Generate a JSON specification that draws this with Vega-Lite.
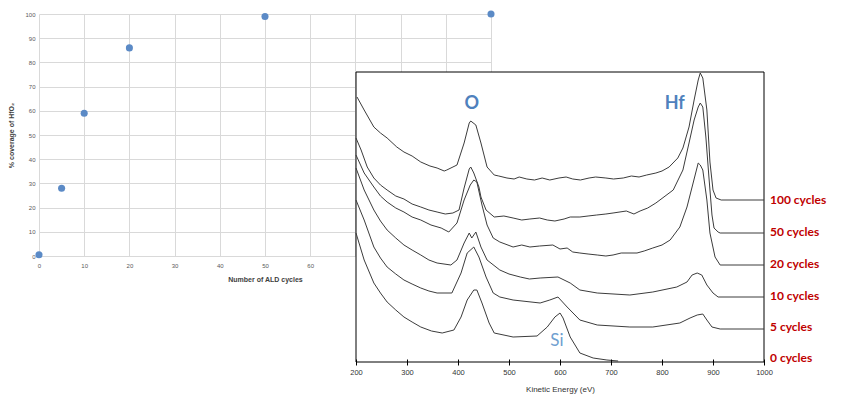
{
  "$schema": "https://vega.github.io/schema/vega-lite/v6.json",
  "width": 452,
  "height": 242,
  "autosize": {"type": "none"},
  "padding": {"left": 39, "top": 14, "right": 354, "bottom": 143},
  "background": "white",
  "config": {"view": {"stroke": null}},
  "datasets": {
    "coverage": [
      {"cycles": 0, "pct": 0.5},
      {"cycles": 5, "pct": 28},
      {"cycles": 10, "pct": 59},
      {"cycles": 20, "pct": 86},
      {"cycles": 50, "pct": 99},
      {"cycles": 100, "pct": 100}
    ],
    "spectra": [
      {"s": "100", "e": 202, "i": 265}, {"s": "100", "e": 216, "i": 252}, {"s": "100", "e": 235, "i": 235}, {"s": "100", "e": 248, "i": 229}, {"s": "100", "e": 261, "i": 224}, {"s": "100", "e": 280, "i": 215}, {"s": "100", "e": 294, "i": 210}, {"s": "100", "e": 310, "i": 206}, {"s": "100", "e": 327, "i": 200}, {"s": "100", "e": 345, "i": 196}, {"s": "100", "e": 359, "i": 194}, {"s": "100", "e": 373, "i": 191}, {"s": "100", "e": 378, "i": 192}, {"s": "100", "e": 398, "i": 197}, {"s": "100", "e": 412, "i": 219}, {"s": "100", "e": 422, "i": 239}, {"s": "100", "e": 425, "i": 241}, {"s": "100", "e": 435, "i": 237}, {"s": "100", "e": 445, "i": 219}, {"s": "100", "e": 457, "i": 195}, {"s": "100", "e": 471, "i": 187}, {"s": "100", "e": 480, "i": 186}, {"s": "100", "e": 496, "i": 184}, {"s": "100", "e": 510, "i": 183}, {"s": "100", "e": 520, "i": 185}, {"s": "100", "e": 535, "i": 183}, {"s": "100", "e": 550, "i": 182}, {"s": "100", "e": 565, "i": 184}, {"s": "100", "e": 580, "i": 182}, {"s": "100", "e": 598, "i": 184}, {"s": "100", "e": 612, "i": 185}, {"s": "100", "e": 625, "i": 183}, {"s": "100", "e": 640, "i": 182}, {"s": "100", "e": 657, "i": 184}, {"s": "100", "e": 670, "i": 185}, {"s": "100", "e": 690, "i": 184}, {"s": "100", "e": 705, "i": 183}, {"s": "100", "e": 724, "i": 184}, {"s": "100", "e": 740, "i": 186}, {"s": "100", "e": 755, "i": 185}, {"s": "100", "e": 770, "i": 187}, {"s": "100", "e": 788, "i": 189}, {"s": "100", "e": 800, "i": 191}, {"s": "100", "e": 814, "i": 195}, {"s": "100", "e": 831, "i": 204}, {"s": "100", "e": 841, "i": 214}, {"s": "100", "e": 853, "i": 235}, {"s": "100", "e": 863, "i": 262}, {"s": "100", "e": 871, "i": 282}, {"s": "100", "e": 875, "i": 289}, {"s": "100", "e": 880, "i": 284}, {"s": "100", "e": 888, "i": 252}, {"s": "100", "e": 894, "i": 200}, {"s": "100", "e": 900, "i": 172}, {"s": "100", "e": 906, "i": 164}, {"s": "100", "e": 916, "i": 162}, {"s": "100", "e": 1000, "i": 162},
      {"s": "50", "e": 200, "i": 224}, {"s": "50", "e": 210, "i": 212}, {"s": "50", "e": 222, "i": 195}, {"s": "50", "e": 235, "i": 184}, {"s": "50", "e": 248, "i": 177}, {"s": "50", "e": 261, "i": 172}, {"s": "50", "e": 278, "i": 166}, {"s": "50", "e": 294, "i": 163}, {"s": "50", "e": 310, "i": 158}, {"s": "50", "e": 327, "i": 155}, {"s": "50", "e": 343, "i": 152}, {"s": "50", "e": 359, "i": 150}, {"s": "50", "e": 375, "i": 148}, {"s": "50", "e": 390, "i": 149}, {"s": "50", "e": 402, "i": 152}, {"s": "50", "e": 412, "i": 174}, {"s": "50", "e": 422, "i": 193}, {"s": "50", "e": 425, "i": 195}, {"s": "50", "e": 431, "i": 189}, {"s": "50", "e": 441, "i": 175}, {"s": "50", "e": 445, "i": 165}, {"s": "50", "e": 455, "i": 152}, {"s": "50", "e": 471, "i": 145}, {"s": "50", "e": 490, "i": 146}, {"s": "50", "e": 508, "i": 144}, {"s": "50", "e": 525, "i": 142}, {"s": "50", "e": 541, "i": 143}, {"s": "50", "e": 560, "i": 144}, {"s": "50", "e": 575, "i": 142}, {"s": "50", "e": 590, "i": 141}, {"s": "50", "e": 608, "i": 143}, {"s": "50", "e": 620, "i": 145}, {"s": "50", "e": 639, "i": 145}, {"s": "50", "e": 655, "i": 146}, {"s": "50", "e": 672, "i": 147}, {"s": "50", "e": 690, "i": 148}, {"s": "50", "e": 704, "i": 149}, {"s": "50", "e": 730, "i": 151}, {"s": "50", "e": 745, "i": 148}, {"s": "50", "e": 757, "i": 151}, {"s": "50", "e": 772, "i": 154}, {"s": "50", "e": 788, "i": 159}, {"s": "50", "e": 822, "i": 172}, {"s": "50", "e": 841, "i": 192}, {"s": "50", "e": 853, "i": 219}, {"s": "50", "e": 863, "i": 242}, {"s": "50", "e": 871, "i": 255}, {"s": "50", "e": 875, "i": 259}, {"s": "50", "e": 880, "i": 255}, {"s": "50", "e": 886, "i": 225}, {"s": "50", "e": 892, "i": 185}, {"s": "50", "e": 898, "i": 147}, {"s": "50", "e": 902, "i": 134}, {"s": "50", "e": 910, "i": 130}, {"s": "50", "e": 914, "i": 129}, {"s": "50", "e": 1000, "i": 129},
      {"s": "20", "e": 200, "i": 207}, {"s": "20", "e": 216, "i": 189}, {"s": "20", "e": 235, "i": 175}, {"s": "20", "e": 248, "i": 166}, {"s": "20", "e": 261, "i": 160}, {"s": "20", "e": 278, "i": 154}, {"s": "20", "e": 294, "i": 150}, {"s": "20", "e": 310, "i": 145}, {"s": "20", "e": 327, "i": 142}, {"s": "20", "e": 347, "i": 137}, {"s": "20", "e": 367, "i": 134}, {"s": "20", "e": 382, "i": 130}, {"s": "20", "e": 398, "i": 139}, {"s": "20", "e": 412, "i": 162}, {"s": "20", "e": 424, "i": 177}, {"s": "20", "e": 431, "i": 182}, {"s": "20", "e": 437, "i": 180}, {"s": "20", "e": 447, "i": 157}, {"s": "20", "e": 457, "i": 137}, {"s": "20", "e": 469, "i": 124}, {"s": "20", "e": 482, "i": 120}, {"s": "20", "e": 508, "i": 115}, {"s": "20", "e": 525, "i": 117}, {"s": "20", "e": 541, "i": 115}, {"s": "20", "e": 560, "i": 116}, {"s": "20", "e": 586, "i": 117}, {"s": "20", "e": 600, "i": 113}, {"s": "20", "e": 614, "i": 114}, {"s": "20", "e": 625, "i": 110}, {"s": "20", "e": 639, "i": 109}, {"s": "20", "e": 655, "i": 108}, {"s": "20", "e": 673, "i": 107}, {"s": "20", "e": 690, "i": 106}, {"s": "20", "e": 704, "i": 107}, {"s": "20", "e": 720, "i": 109}, {"s": "20", "e": 751, "i": 109}, {"s": "20", "e": 765, "i": 111}, {"s": "20", "e": 782, "i": 114}, {"s": "20", "e": 800, "i": 117}, {"s": "20", "e": 816, "i": 122}, {"s": "20", "e": 835, "i": 135}, {"s": "20", "e": 849, "i": 155}, {"s": "20", "e": 861, "i": 179}, {"s": "20", "e": 871, "i": 199}, {"s": "20", "e": 875, "i": 197}, {"s": "20", "e": 880, "i": 192}, {"s": "20", "e": 888, "i": 162}, {"s": "20", "e": 894, "i": 129}, {"s": "20", "e": 904, "i": 105}, {"s": "20", "e": 914, "i": 97}, {"s": "20", "e": 1000, "i": 97},
      {"s": "10", "e": 200, "i": 194}, {"s": "10", "e": 216, "i": 172}, {"s": "10", "e": 235, "i": 152}, {"s": "10", "e": 248, "i": 141}, {"s": "10", "e": 261, "i": 132}, {"s": "10", "e": 278, "i": 124}, {"s": "10", "e": 294, "i": 117}, {"s": "10", "e": 310, "i": 112}, {"s": "10", "e": 327, "i": 107}, {"s": "10", "e": 343, "i": 102}, {"s": "10", "e": 359, "i": 99}, {"s": "10", "e": 386, "i": 97}, {"s": "10", "e": 398, "i": 102}, {"s": "10", "e": 412, "i": 119}, {"s": "10", "e": 422, "i": 129}, {"s": "10", "e": 427, "i": 124}, {"s": "10", "e": 435, "i": 130}, {"s": "10", "e": 445, "i": 115}, {"s": "10", "e": 457, "i": 102}, {"s": "10", "e": 482, "i": 92}, {"s": "10", "e": 500, "i": 88}, {"s": "10", "e": 522, "i": 85}, {"s": "10", "e": 540, "i": 83}, {"s": "10", "e": 561, "i": 84}, {"s": "10", "e": 596, "i": 85}, {"s": "10", "e": 620, "i": 79}, {"s": "10", "e": 639, "i": 72}, {"s": "10", "e": 673, "i": 69}, {"s": "10", "e": 737, "i": 67}, {"s": "10", "e": 782, "i": 70}, {"s": "10", "e": 829, "i": 75}, {"s": "10", "e": 849, "i": 80}, {"s": "10", "e": 859, "i": 87}, {"s": "10", "e": 869, "i": 89}, {"s": "10", "e": 878, "i": 87}, {"s": "10", "e": 888, "i": 77}, {"s": "10", "e": 900, "i": 69}, {"s": "10", "e": 910, "i": 65}, {"s": "10", "e": 1000, "i": 65},
      {"s": "5", "e": 200, "i": 162}, {"s": "5", "e": 216, "i": 142}, {"s": "5", "e": 235, "i": 115}, {"s": "5", "e": 248, "i": 104}, {"s": "5", "e": 261, "i": 95}, {"s": "5", "e": 278, "i": 88}, {"s": "5", "e": 294, "i": 82}, {"s": "5", "e": 310, "i": 78}, {"s": "5", "e": 327, "i": 74}, {"s": "5", "e": 343, "i": 71}, {"s": "5", "e": 359, "i": 69}, {"s": "5", "e": 388, "i": 69}, {"s": "5", "e": 406, "i": 89}, {"s": "5", "e": 418, "i": 109}, {"s": "5", "e": 431, "i": 115}, {"s": "5", "e": 441, "i": 105}, {"s": "5", "e": 455, "i": 85}, {"s": "5", "e": 469, "i": 69}, {"s": "5", "e": 482, "i": 65}, {"s": "5", "e": 508, "i": 62}, {"s": "5", "e": 561, "i": 59}, {"s": "5", "e": 580, "i": 62}, {"s": "5", "e": 596, "i": 65}, {"s": "5", "e": 614, "i": 55}, {"s": "5", "e": 639, "i": 42}, {"s": "5", "e": 673, "i": 37}, {"s": "5", "e": 737, "i": 35}, {"s": "5", "e": 782, "i": 35}, {"s": "5", "e": 835, "i": 39}, {"s": "5", "e": 855, "i": 44}, {"s": "5", "e": 869, "i": 47}, {"s": "5", "e": 880, "i": 48}, {"s": "5", "e": 888, "i": 42}, {"s": "5", "e": 898, "i": 35}, {"s": "5", "e": 914, "i": 33}, {"s": "5", "e": 1000, "i": 33},
      {"s": "0", "e": 200, "i": 129}, {"s": "0", "e": 216, "i": 102}, {"s": "0", "e": 235, "i": 79}, {"s": "0", "e": 248, "i": 69}, {"s": "0", "e": 261, "i": 60}, {"s": "0", "e": 278, "i": 52}, {"s": "0", "e": 294, "i": 45}, {"s": "0", "e": 310, "i": 40}, {"s": "0", "e": 327, "i": 35}, {"s": "0", "e": 348, "i": 31}, {"s": "0", "e": 369, "i": 29}, {"s": "0", "e": 392, "i": 32}, {"s": "0", "e": 406, "i": 45}, {"s": "0", "e": 418, "i": 62}, {"s": "0", "e": 431, "i": 72}, {"s": "0", "e": 437, "i": 72}, {"s": "0", "e": 447, "i": 59}, {"s": "0", "e": 461, "i": 39}, {"s": "0", "e": 471, "i": 29}, {"s": "0", "e": 508, "i": 25}, {"s": "0", "e": 555, "i": 26}, {"s": "0", "e": 575, "i": 35}, {"s": "0", "e": 590, "i": 45}, {"s": "0", "e": 600, "i": 49}, {"s": "0", "e": 606, "i": 44}, {"s": "0", "e": 620, "i": 25}, {"s": "0", "e": 639, "i": 9}, {"s": "0", "e": 665, "i": 4}, {"s": "0", "e": 692, "i": 2}, {"s": "0", "e": 714, "i": 1}
    ],
    "frame": [{"e": 200, "e2": 1000, "i": 0, "i2": 290}],
    "cycleLabels": [
      {"label": "100 cycles", "e": 1000, "i": 162},
      {"label": "50 cycles", "e": 1000, "i": 130},
      {"label": "20 cycles", "e": 1000, "i": 98},
      {"label": "10 cycles", "e": 1000, "i": 66},
      {"label": "5 cycles", "e": 1000, "i": 35},
      {"label": "0 cycles", "e": 1000, "i": 4}
    ],
    "peaks": [
      {"label": "O", "e": 427, "i": 258},
      {"label": "Hf", "e": 825, "i": 258}
    ],
    "siPeak": [
      {"label": "Si", "e": 594, "i": 21}
    ]
  },
  "layer": [
    {
      "data": {"name": "coverage"},
      "mark": {"type": "point", "filled": true, "size": 50, "color": "#5b8ac6", "opacity": 1},
      "encoding": {
        "x": {
          "field": "cycles", "type": "quantitative",
          "scale": {"domain": [0, 100], "nice": false, "zero": false},
          "axis": {
            "values": [0, 10, 20, 30, 40, 50, 60, 70, 80, 90, 100],
            "labelExpr": "datum.value <= 60 ? datum.label : ''",
            "labelFlush": false,
            "grid": true, "gridColor": "#d9d9d9", "gridWidth": 1,
            "domain": false, "ticks": false,
            "labelFont": "Liberation Sans", "labelFontSize": 6, "labelColor": "#595959", "labelPadding": 6,
            "title": "Number of ALD cycles", "titleFont": "Liberation Sans", "titleFontSize": 7, "titleFontWeight": "bold", "titleColor": "#404040", "titlePadding": 7
          }
        },
        "y": {
          "field": "pct", "type": "quantitative",
          "scale": {"domain": [0, 100], "nice": false, "zero": false},
          "axis": {
            "values": [0, 10, 20, 30, 40, 50, 60, 70, 80, 90, 100],
            "labelFlush": false,
            "grid": true, "gridColor": "#d9d9d9", "gridWidth": 1,
            "domain": false, "ticks": false,
            "labelFont": "Liberation Sans", "labelFontSize": 6, "labelColor": "#595959", "labelPadding": 4,
            "title": "% coverage of HfO₂", "titleFont": "Liberation Sans", "titleFontSize": 7, "titleFontWeight": "bold", "titleColor": "#404040", "titlePadding": 10
          }
        }
      }
    },
    {
      "layer": [
        {
          "data": {"name": "frame"},
          "mark": {"type": "rect", "fill": "white", "stroke": "black", "strokeWidth": 1},
          "encoding": {
            "x": {
              "field": "e", "type": "quantitative",
              "scale": {"domain": [200, 1000], "range": [317, 725], "nice": false, "zero": false},
              "axis": {
                "orient": "bottom", "offset": 103, "zindex": 1,
                "values": [200, 250, 300, 350, 400, 450, 500, 550, 600, 650, 700, 750, 800, 850, 900, 950, 1000],
                "format": "d",
                "labelExpr": "datum.value % 100 === 0 ? datum.label : ''",
                "labelFlush": false,
                "domain": false, "grid": false,
                "tickSize": 6, "tickColor": "black", "tickWidth": 1,
                "labelFont": "Liberation Sans", "labelFontSize": 7.5, "labelColor": "#333333", "labelPadding": 3,
                "title": "Kinetic Energy (eV)", "titleFont": "Liberation Sans", "titleFontSize": 8, "titleFontWeight": "normal", "titleColor": "#333333",
                "titleY": 30, "titleBaseline": "middle", "titleAngle": 0
              }
            },
            "x2": {"field": "e2"},
            "y": {
              "field": "i", "type": "quantitative",
              "scale": {"domain": [0, 290], "range": [348, 58], "nice": false, "zero": false},
              "axis": null
            },
            "y2": {"field": "i2"}
          }
        },
        {
          "data": {"name": "spectra"},
          "mark": {"type": "line", "color": "#3c3c3c", "strokeWidth": 1},
          "encoding": {
            "x": {"field": "e", "type": "quantitative"},
            "y": {"field": "i", "type": "quantitative"},
            "detail": {"field": "s", "type": "nominal"}
          }
        },
        {
          "data": {"name": "cycleLabels"},
          "mark": {"type": "text", "align": "left", "baseline": "middle", "dx": 6, "color": "#c00000", "font": "Lato", "fontWeight": "bold", "fontSize": 12},
          "encoding": {
            "x": {"field": "e", "type": "quantitative"},
            "y": {"field": "i", "type": "quantitative"},
            "text": {"field": "label"}
          }
        },
        {
          "data": {"name": "peaks"},
          "mark": {"type": "text", "align": "center", "baseline": "middle", "color": "#4f81bd", "font": "Lato", "fontWeight": "bold", "fontSize": 18},
          "encoding": {
            "x": {"field": "e", "type": "quantitative"},
            "y": {"field": "i", "type": "quantitative"},
            "text": {"field": "label"}
          }
        },
        {
          "data": {"name": "siPeak"},
          "mark": {"type": "text", "align": "center", "baseline": "middle", "color": "#6fa0d0", "font": "Lato", "fontWeight": "normal", "fontSize": 17},
          "encoding": {
            "x": {"field": "e", "type": "quantitative"},
            "y": {"field": "i", "type": "quantitative"},
            "text": {"field": "label"}
          }
        }
      ]
    }
  ],
  "resolve": {"scale": {"x": "independent", "y": "independent"}}
}
